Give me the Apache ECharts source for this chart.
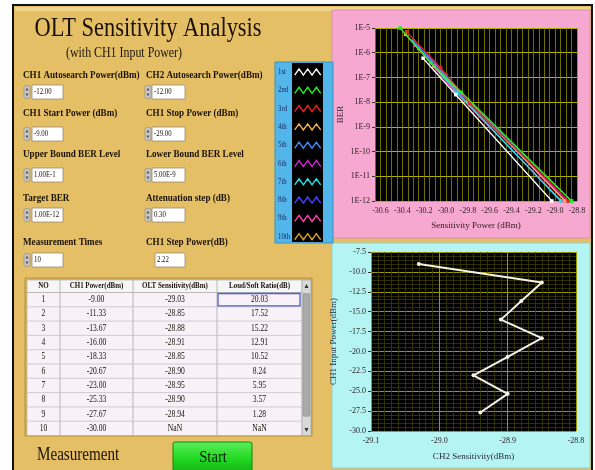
<!DOCTYPE html>
<html><head><meta charset="utf-8">
<script src="https://cdn.jsdelivr.net/npm/echarts@6/dist/echarts.min.js"></script>
<style>html,body{margin:0;padding:0;background:#fff}#c{width:595px;height:470px}</style>
</head><body><div id="c"></div>
<script>
// ---------- DATA ----------
const legendNames = ['1st','2nd','3rd','4th','5th','6th','7th','8th','9th','10th'];
const ber1 = [[-30.21,6e-7],[-29.91,2e-8],[-29.03,1e-12]];
const ber2 = [[-30.42,1e-5],[-30.14,4e-7],[-29.86,2.5e-8],[-28.85,1e-12]];
const ber3 = [[-30.36,7e-6],[-30.05,2.5e-7],[-29.78,9e-9],[-28.88,1e-12]];
const ber4 = [[-30.37,5.5e-6],[-30.11,2.8e-7],[-29.80,1.2e-8],[-28.91,1e-12]];
const ber5 = [[-30.30,3e-6],[-30.00,1.2e-7],[-29.75,7e-9],[-28.85,1e-12]];
const ber6 = [[-30.16,7e-7],[-29.85,2e-8],[-28.90,1e-12]];
const ber7 = [[-30.25,1.5e-6],[-29.90,2.5e-8],[-28.95,1e-12]];
const ber8 = [[-30.20,9e-7],[-29.88,2.2e-8],[-28.90,1e-12]];
const ber9 = [[-30.28,2e-6],[-29.93,3e-8],[-28.94,1e-12]];
const ber10 = [];
const berData = [ber1,ber2,ber3,ber4,ber5,ber6,ber7,ber8,ber9,ber10];
const berYTicks = [1e-12,1e-11,1e-10,1e-9,1e-8,1e-7,1e-6,1e-5];

const tableNo = [1,2,3,4,5,6,7,8,9,10];
const ch1Power = [-9.00,-11.33,-13.67,-16.00,-18.33,-20.67,-23.00,-25.33,-27.67,-30.00];
const oltSens = [-29.03,-28.85,-28.88,-28.91,-28.85,-28.90,-28.95,-28.90,-28.94,NaN];
const loudSoft = [20.03,17.52,15.22,12.91,10.52,8.24,5.95,3.57,1.28,NaN];
const tableHeaders = ['NO','CH1 Power(dBm)','OLT Sensitivity(dBm)','Loud/Soft Ratio(dB)'];

const leftLabels = ['CH1 Autosearch Power(dBm)','CH1 Start Power (dBm)','Upper Bound BER Level','Target BER','Measurement Times'];
const leftValues = ['-12.00','-9.00','1.00E-1','1.00E-12','10'];
const rightLabels = ['CH2 Autosearch Power(dBm)','CH1 Stop Power (dBm)','Lower Bound BER Level','Attenuation step (dB)','CH1 Step Power(dB)'];
const rightValues = ['-12.00','-29.00','5.00E-9','0.30','2.22'];

// ---------- STYLE ----------
const berColors = ['#ffffff','#22ee22','#ee2020','#f0b050','#3a8cff','#e020e0','#20e0e0','#4a40ff','#ff40b0','#d8a020'];
const SERIF = '"Liberation Serif", "DejaVu Serif", serif';
const TAN = '#e4bf66';

const g = [];
function rect(x,y,w,h,fill,stroke,lw,z,r){g.push({type:'rect',z:z,shape:{x,y,width:w,height:h,r:r||0},style:{fill:fill||'none',stroke:stroke||null,lineWidth:lw||0}});}
function text(x,y,t,size,opt){opt=opt||{};g.push({type:'text',x,y,z:opt.z||12,scaleX:opt.sx||1,style:{text:t,x:0,y:0,font:(opt.w||'normal')+' '+size+'px '+SERIF,fill:opt.fill||'#1a1208',textAlign:opt.align||'left',textVerticalAlign:'middle',verticalAlign:'middle'}});}

// backgrounds (behind grids)
rect(13,5,579,470,TAN,'#111',2,-20);
rect(15,7,575,4,'#efd48e',null,0,-19);
rect(332,10,258,228,'#f7a8d0','#d890b0',1,-18);
rect(332,243,258,225,'#b4f4f2','#90d0d0',1,-18);
rect(275,62,58,181,'#52b6ea','#3a90c0',1,-18);
rect(292,63,31,179,'#000000',null,0,-17);

// legend labels (left column of legend box)
const legStep = 18.3, legY0 = 72;
legendNames.forEach((n,i)=>text(278,legY0+i*legStep,n,8,{sx:0.85,fill:'#1a2a60'}));

// title
text(148,29,'OLT Sensitivity Analysis',27,{align:'center',sx:0.83});
text(124,53,'(with CH1 Input Power)',14,{align:'center',sx:0.85});

// controls
const labY=[75,113,154,198,242], boxY=[92,134,175,215,260];
function spinner(x,yc){rect(x,yc-6.5,6,13,'#c8c8c8','#888',0.6,5,2);g.push({type:'polygon',z:6,shape:{points:[[x+1.5,yc-1.5],[x+3,yc-4.5],[x+4.5,yc-1.5]]},style:{fill:'#555'}});g.push({type:'polygon',z:6,shape:{points:[[x+1.5,yc+1.5],[x+3,yc+4.5],[x+4.5,yc+1.5]]},style:{fill:'#555'}});}
for(let i=0;i<5;i++){
  text(23,labY[i],leftLabels[i],10,{w:'bold',sx:0.91});
  text(146,labY[i],rightLabels[i],10,{w:'bold',sx:0.91});
  spinner(24,boxY[i]);
  rect(32,boxY[i]-7,31,14,'#ffffff','#9a8a70',0.8,5);
  text(34,boxY[i],leftValues[i],8,{sx:0.85});
  if(i<4){spinner(145,boxY[i]);rect(152,boxY[i]-7,33,14,'#ffffff','#9a8a70',0.8,5);text(154,boxY[i],rightValues[i],8,{sx:0.85});}
  else {rect(155,boxY[i]-7,30,14,'#ffffff','#9a8a70',0.8,5);text(157,boxY[i],rightValues[i],8,{sx:0.85});}
}

// table
const colX=[27,60,133,217,302], tTop=280, hH=12.5, rH=14.3;
rect(25,278,287,158,'#d7b45e','#b89040',1,4);
rect(27,tTop,275,hH,'#f6f6f6','#a8a8a8',0.6,5);
rect(27,tTop+hH,275,rH*10,'#f8f1f8','#a8a8a8',0.6,5);
for(let c=1;c<4;c++){g.push({type:'line',z:6,shape:{x1:colX[c],y1:tTop,x2:colX[c],y2:tTop+hH+rH*10},style:{stroke:'#a8a8a8',lineWidth:0.8}});}
for(let r=1;r<10;r++){const yy=tTop+hH+r*rH;g.push({type:'line',z:6,shape:{x1:27,y1:yy,x2:302,y2:yy},style:{stroke:'#c8c0c8',lineWidth:0.8}});}
for(let c=0;c<4;c++){text((colX[c]+colX[c+1])/2,tTop+hH/2,tableHeaders[c],8.5,{w:'bold',align:'center',sx:0.82});}
function fmt(v){return isNaN(v)?'NaN':v.toFixed(2);}
for(let r=0;r<10;r++){
  const yc=tTop+hH+r*rH+rH/2;
  const vals=[String(tableNo[r]),fmt(ch1Power[r]),fmt(oltSens[r]),fmt(loudSoft[r])];
  for(let c=0;c<4;c++) text((colX[c]+colX[c+1])/2,yc,vals[c],9.5,{align:'center',sx:0.8});
}
rect(218,tTop+hH+1,82,rH-2,'none','#5060c0',1.3,7);
// scrollbar
rect(302,tTop,9,hH+rH*10,'#d9d9d9','#a0a0a0',0.6,5);
rect(303,tTop+hH+1,7,rH*9-6,'#a9a9a9','#888',0.5,6,1);
g.push({type:'polygon',z:7,shape:{points:[[304.5,288],[306.5,284],[308.5,288]]},style:{fill:'#333'}});
g.push({type:'polygon',z:7,shape:{points:[[304.5,428],[306.5,432],[308.5,428]]},style:{fill:'#333'}});

// bottom
text(37,455,'Measurement',18,{sx:0.84});
g.push({type:'rect',z:5,shape:{x:173,y:442,width:79,height:34,r:2},style:{fill:new echarts.graphic.LinearGradient(0,0,0,1,[{offset:0,color:'#5cf05c'},{offset:0.5,color:'#22d822'},{offset:1,color:'#10a810'}]),stroke:'#0a8a0a',lineWidth:1}});
text(213,458,'Start',17,{align:'center',sx:0.86,fill:'#0a200a'});

// ---------- CHART ----------
const tickFont = {fontFamily:SERIF,fontSize:8,color:'#2a1a20'};
const series = berData.map((d,i)=>({
  name:legendNames[i],type:'line',xAxisIndex:0,yAxisIndex:0,data:d,
  symbol:'rect',symbolSize:3.5,lineStyle:{width:1.3,color:berColors[i]},itemStyle:{color:berColors[i]},z:3+(9-i)*0.01
}));
const sensPts = oltSens.map((s,i)=>[s,ch1Power[i]]).filter(p=>!isNaN(p[0]));
series.push({type:'line',xAxisIndex:1,yAxisIndex:1,data:sensPts,symbol:'circle',symbolSize:4,lineStyle:{width:2,color:'#f4f2e6'},itemStyle:{color:'#f4f2e6'}});

const zig='path://M0,9 L5,2 L10,9 L15,2 L20,9 L25,2 L30,9';
const option = {
  animation:false,
  graphic:g,
  legend:{
    orient:'vertical',left:294,top:legY0-4.5,padding:0,itemWidth:26,itemHeight:9,itemGap:legStep-9,align:'left',selectedMode:false,
    textStyle:{fontFamily:SERIF,fontSize:8,color:'rgba(0,0,0,0)',lineHeight:9},
    data:legendNames.map((n,i)=>({name:n,icon:zig,itemStyle:{color:'rgba(0,0,0,0)',borderColor:berColors[i],borderWidth:1.4}}))
  },
  grid:[
    {left:375,top:28,width:202,height:173,show:true,backgroundColor:'#000',borderWidth:0},
    {left:371,top:252,width:205,height:179,show:true,backgroundColor:'#000',borderWidth:0}
  ],
  xAxis:[
    {type:'value',gridIndex:0,min:-30.65,max:-28.8,interval:0.05,
     axisLine:{show:false},axisTick:{show:false},
     axisLabel:{...tickFont,interval:0,margin:6,showMinLabel:true,showMaxLabel:true,formatter:v=>Math.round(v*100)%20===0?v.toFixed(1):''},
     splitLine:{show:true,lineStyle:{color:'#8c8c00',width:0.8}},
     name:'Sensitivity Power (dBm)',nameLocation:'middle',nameGap:20,nameTextStyle:{fontFamily:SERIF,fontSize:9,color:'#2a1a20'}},
    {type:'value',gridIndex:1,min:-29.1,max:-28.8,interval:0.1,
     axisLine:{show:false},axisTick:{show:false},
     axisLabel:{...tickFont,margin:6,formatter:v=>v.toFixed(1)},
     splitLine:{show:true,lineStyle:{color:'#9a9a00',width:1}},
     minorTick:{show:false,splitNumber:10},
     minorSplitLine:{show:true,lineStyle:{color:'#3c3c00',width:0.8}},
     name:'CH2 Sensitivity(dBm)',nameLocation:'middle',nameGap:21,nameTextStyle:{fontFamily:SERIF,fontSize:9,color:'#2a2a40'}}
  ],
  yAxis:[
    {type:'log',gridIndex:0,logBase:10,min:berYTicks[0],max:berYTicks[berYTicks.length-1],
     axisLine:{show:false},axisTick:{show:true,length:3,lineStyle:{color:'#333'}},
     axisLabel:{...tickFont,margin:5,formatter:v=>'1E'+Math.round(Math.log10(v))},
     splitLine:{show:true,lineStyle:{color:'#b0b000',width:1}},minorSplitLine:{show:false},
     name:'BER',nameLocation:'middle',nameGap:30,nameRotate:90,nameTextStyle:{fontFamily:SERIF,fontSize:9,color:'#2a1a20'}},
    {type:'value',gridIndex:1,min:-30,max:-7.5,interval:2.5,
     axisLine:{show:false},axisTick:{show:true,length:3,lineStyle:{color:'#333'}},
     axisLabel:{...tickFont,margin:5,formatter:v=>v.toFixed(1)},
     splitLine:{show:true,lineStyle:{color:'#9a9a00',width:1}},
     minorTick:{show:false,splitNumber:5},
     minorSplitLine:{show:true,lineStyle:{color:'#3c3c00',width:0.8}},
     name:'CH1 Input Power(dBm)',nameLocation:'middle',nameGap:33,nameRotate:90,nameTextStyle:{fontFamily:SERIF,fontSize:9,color:'#2a2a40'}}
  ],
  series
};
const chart = echarts.init(document.getElementById('c'),null,{renderer:'canvas'});
chart.setOption(option);
</script></body></html>
